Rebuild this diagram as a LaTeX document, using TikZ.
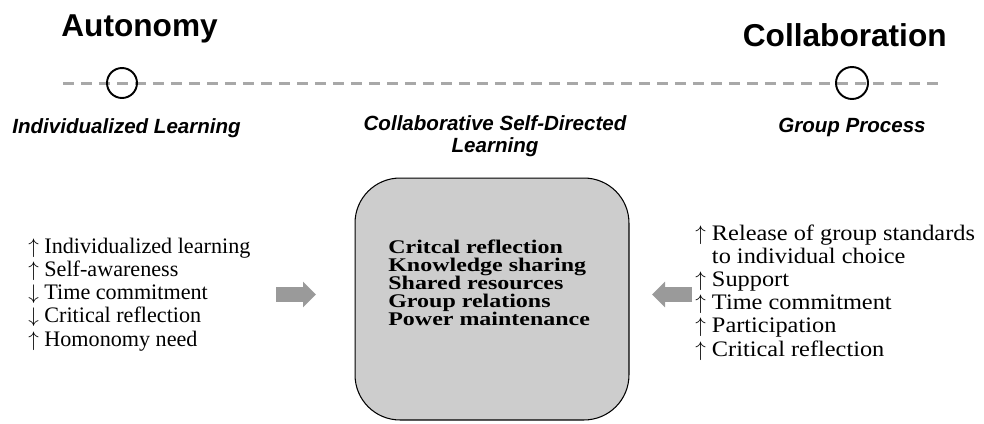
\documentclass[tikz,border=0pt]{standalone}
\usepackage{fontspec}
\setmainfont{Liberation Serif}
\setsansfont{Liberation Sans}
\newfontfamily\corefont[FakeStretch=1.24]{Liberation Serif}
\newfontfamily\widefont[FakeStretch=1.1]{Liberation Serif}
\usetikzlibrary{arrows.meta}

\definecolor{coregray}{HTML}{CDCDCD}
\definecolor{axisgray}{HTML}{A8A8A8}
\definecolor{pushgray}{HTML}{9A9A9A}

\tikzset{
  headline/.style={font=\sffamily\bfseries\fontsize{18}{20}\selectfont, inner sep=0pt},
  poletext/.style={font=\sffamily\bfseries\itshape\fontsize{11.7}{12.5}\selectfont, inner sep=0pt},
  listtext/.style={font=\rmfamily\fontsize{12.6}{13.2}\selectfont, align=left, inner sep=0pt},
  ring/.style={circle, draw, line width=1.1pt, minimum size=0.6cm, inner sep=0pt},
  pushArrow/.style={draw=pushgray, line width=0.3cm, line cap=butt,
    -{Triangle[length=0.26cm, width=0.5cm]}},
}

\begin{document}
\begin{tikzpicture}[x=0.02cm, y=-0.02cm]
		\useasboundingbox (0,0) rectangle (984,423);
		% continuum
		\coordinate (axisL) at (63,83.5);
		\coordinate (axisR) at (943,83.5);
		\draw[axisgray, line width=1.7pt, dash pattern=on 0.22cm off 0.14cm] (axisL) -- (axisR);
		\node[ring] (auto) at (122,83) {};
		\node[ring, minimum size=0.64cm] (coll) at (852,83) {};
		\node[headline, anchor=base west] (autotitle) at (61,36) {Autonomy};
		\node[headline, anchor=base east] (colltitle) at (947,46) {Collaboration};
		\node[poletext, anchor=base west] (indiv) at (12,133) {Individualized Learning};
		\node[poletext, anchor=base] (group) at (852,132) {Group Process};
		\node[poletext, align=center, anchor=base] (csdl) at (495,152) {Collaborative Self-Directed\\Learning};
		% middle box
		\node[draw, fill=coregray, line width=0.6pt, rounded corners=0.9cm,
			minimum width=5.48cm, minimum height=4.84cm] (core) at (492,299) {};
		\node[font=\corefont\bfseries\fontsize{11}{10.2}\selectfont, align=left, inner sep=0pt,
			anchor=base west] (coretext) at (388,325)
			{Critcal reflection\\Knowledge sharing\\Shared resources\\Group relations\\Power maintenance};
		% side lists
		\node[listtext, anchor=base west] (leftlist) at (28,346)
			{$\uparrow$ Individualized learning\\$\uparrow$ Self-awareness\\$\downarrow$ Time commitment\\$\downarrow$ Critical reflection\\$\uparrow$ Homonomy need};
		\node[listtext, font=\widefont\fontsize{12.6}{13.2}\selectfont, anchor=base west] (rightlist) at (695,356)
			{$\uparrow$ Release of group standards\\\hphantom{$\uparrow$ }to individual choice\\$\uparrow$ Support\\$\uparrow$ Time commitment\\$\uparrow$ Participation\\$\uparrow$ Critical reflection};
		% block arrows
		\coordinate (pushLa) at (276,294.5);
		\coordinate (pushLb) at (316,294.5);
		\coordinate (pushRa) at (692,294.5);
		\coordinate (pushRb) at (652,294.5);
		\draw[pushArrow] (pushLa) -- (pushLb);
		\draw[pushArrow] (pushRa) -- (pushRb);
	\end{tikzpicture}
\end{document}
